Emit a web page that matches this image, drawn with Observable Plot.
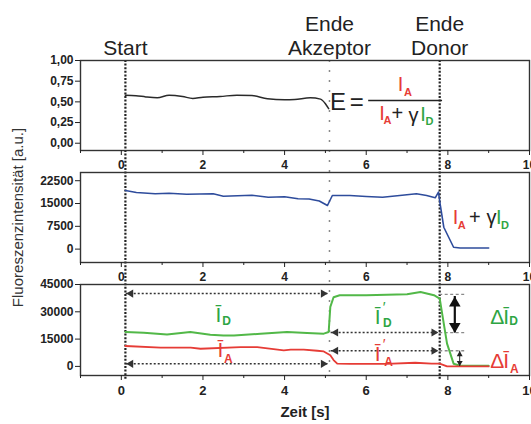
<!DOCTYPE html>
<html><head><meta charset="utf-8">
<script src="https://cdn.jsdelivr.net/npm/d3@7"></script>
<script src="https://cdn.jsdelivr.net/npm/@observablehq/plot@0.6"></script>
<style>
body{margin:0;background:#fff}
#chart{position:relative;width:531px;height:424px;overflow:hidden;background:#fff}
#chart svg{position:absolute;left:0;top:0}
</style></head><body><div id="chart"></div>
<script>
// ---- data ----
const majorTicks = [0, 2, 4, 6, 8, 10];
const minorTicks = [-1, 1, 3, 5, 7, 9];
const eventTimes = [0.1, 5.1, 7.8];
const eventLabels = ["Start", "Ende\nAkzeptor", "Ende\nDonor"];

const yTicksE = [0, 0.25, 0.5, 0.75, 1];
const yTicksSum = [0, 7500, 15000, 22500];
const yTicksI = [0, 15000, 30000, 45000];

// FRET efficiency E
const eTime = [0.1, 0.36, 0.6, 0.88, 1.17, 1.5, 1.75, 2.0, 2.42, 2.83, 3.2, 3.58, 4.0, 4.25, 4.63, 4.88, 5.0, 5.08];
const eValue = [0.58, 0.575, 0.56, 0.55, 0.58, 0.565, 0.541, 0.557, 0.565, 0.581, 0.577, 0.537, 0.525, 0.529, 0.549, 0.533, 0.477, 0.417];

// I_A + gamma I_D
const sumTime = [0.1, 0.37, 0.83, 1.17, 1.6, 2.25, 2.5, 3.2, 3.6, 4.0, 4.33, 4.6, 4.85, 5.05, 5.17, 5.6, 6.0, 6.4, 6.82, 7.23, 7.48, 7.69, 7.77, 7.81, 7.9, 8.14, 8.3, 9.0];
const sumValue = [19280, 18620, 18190, 18390, 18060, 18190, 17400, 17730, 17070, 17200, 16550, 16480, 15820, 14340, 17630, 17630, 17300, 17070, 17630, 18190, 17630, 16880, 18720, 14900, 7200, 620, 360, 360];

// donor intensity I_D
const donorTime = [0.1, 0.55, 1.12, 1.69, 2.18, 2.5, 2.76, 3.41, 4.06, 4.55, 4.96, 5.08, 5.12, 5.2, 5.35, 6.0, 6.5, 7.0, 7.33, 7.66, 7.8, 7.86, 7.98, 8.14, 8.3, 9.0];
const donorValue = [18900, 18500, 17580, 18900, 17400, 17000, 17000, 17950, 18900, 18300, 18000, 18900, 32700, 38000, 39100, 39100, 39300, 39600, 40900, 39100, 37300, 29000, 12500, 1500, 400, 300];

// acceptor intensity I_A
const accTime = [0.1, 0.96, 1.7, 1.94, 2.92, 3.33, 3.98, 4.15, 4.47, 4.8, 4.96, 5.12, 5.2, 5.29, 5.6, 6.5, 7.2, 7.6, 7.8, 7.98, 9.0];
const accValue = [11200, 10300, 10300, 9700, 10600, 10600, 8800, 9200, 9200, 8600, 8200, 6100, 3500, 1500, 1400, 1400, 2000, 1500, 1500, 0, 0];

// ---- helpers ----
const zip = (ts, vs) => ts.map((t, i) => ({t, v: vs[i]}));
const W = 531, H = 424, ML = 80, MR = 2;
const RED = "#e63c36", GREEN = "#2ea543", GREEN_LINE = "#52b848", BLUE = "#2e4c9c", DARK = "#2a2a2a";
const baseStyle = {background: "transparent", fontFamily: "'Liberation Sans', Arial, sans-serif", fontSize: "12px", fontWeight: "bold", color: "#222"};

function panel({top, bottom, yDomain, yTicks, yFormat, xFont, marks}) {
  return Plot.plot({
    width: W, height: H, marginLeft: ML, marginRight: MR, marginTop: top, marginBottom: H - bottom,
    x: {domain: [-1, 10]}, y: {domain: yDomain},
    style: baseStyle,
    marks: [
      Plot.frame({stroke: "#333", strokeWidth: 1.4}),
      Plot.axisY(yTicks, {tickSize: 5, tickPadding: 2, tickFormat: yFormat, label: null}),
      Plot.axisX(majorTicks, {tickSize: 5, tickPadding: 5, label: null, fontSize: xFont}),
      Plot.axisX(minorTicks, {tickSize: 3, tickFormat: () => "", label: null}),
      ...marks
    ]
  });
}
const lab = (s, t, v, c, fs, fw = "normal") =>
  Plot.text([{s, t, v}], {x: "t", y: "v", text: "s", fill: c, fontSize: fs, fontWeight: fw, textAnchor: "middle", lineAnchor: "middle"});
const tipOffset = r => 2 * Math.sqrt(Math.PI * r * r / (3 * Math.sqrt(3)));
function hArrow(y, t1, t2, stroke = "#333", width = 1.5, dash = "2,2", r = 3) {
  const o = tipOffset(r);
  return [
    Plot.ruleY([y], {y: d => d, x1: () => t1, x2: () => t2, stroke, strokeWidth: width, strokeDasharray: dash}),
    Plot.dot([y], {x: () => t1, y: d => d, symbol: "triangle", rotate: -90, r, fill: stroke, stroke: "none", dx: o}),
    Plot.dot([y], {x: () => t2, y: d => d, symbol: "triangle", rotate: 90, r, fill: stroke, stroke: "none", dx: -o})
  ];
}
function vArrow(t, yLow, yHigh, stroke = "#111", width = 2, r = 4) {
  const o = tipOffset(r);
  return [
    Plot.ruleX([t], {x: d => d, y1: () => yLow, y2: () => yHigh, stroke, strokeWidth: width}),
    Plot.dot([t], {x: d => d, y: () => yHigh, symbol: "triangle", rotate: 0, r, fill: stroke, stroke: "none", dy: o}),
    Plot.dot([t], {x: d => d, y: () => yLow, symbol: "triangle", rotate: 180, r, fill: stroke, stroke: "none", dy: -o})
  ];
}
const IBAR = "\u012A", PRIME = "\u2032", DELTA = "\u0394", GAMMA = "\u03B3";

// ---- overlay: event lines, headers, axis titles ----
const overlay = Plot.plot({
  width: W, height: H, marginLeft: ML, marginRight: MR, marginTop: 60, marginBottom: 44,
  x: {domain: [-1, 10], axis: null}, y: {domain: [0, 1], axis: null},
  style: baseStyle,
  marks: [
    Plot.ruleX([eventTimes[0], eventTimes[2]], {x: d => d, stroke: "#222", strokeWidth: 2.2, strokeDasharray: "2,1.6"}),
    Plot.ruleX([eventTimes[1]], {x: d => d, stroke: "#8a8a8a", strokeWidth: 1.5, strokeDasharray: "2,8"}),
    Plot.text(eventTimes, {x: d => d, text: (d, i) => eventLabels[i], frameAnchor: "top", lineAnchor: "bottom", textAnchor: "middle", dy: -6, fontSize: 21, fontWeight: "normal", lineHeight: 1.1, fill: "#222"}),
    Plot.text(["Fluoreszenzintensität [a.u.]"], {text: d => d, frameAnchor: "left", textAnchor: "middle", lineAnchor: "middle", dx: -62, dy: -3, rotate: -90, fontSize: 15, fontWeight: "normal", fill: "#333"}),
    Plot.text(["Zeit [s]"], {text: d => d, frameAnchor: "bottom", textAnchor: "middle", lineAnchor: "middle", dy: 32, fontSize: 15, fontWeight: "bold", fill: "#222"})
  ]
});

// ---- panel 1: E ----
const p1 = panel({
  top: 60, bottom: 150, yDomain: [-0.088, 1.0], yTicks: yTicksE,
  yFormat: d => d.toFixed(2).replace(".", ","), xFont: 12,
  marks: [
    Plot.line(zip(eTime, eValue), {x: "t", y: "v", stroke: DARK, strokeWidth: 1.5, curve: "monotone-x"}),
    lab("E", 5.31, 0.5, "#222", 24),
    lab("=", 5.77, 0.5, "#222", 24),
    Plot.ruleY([0.517], {y: d => d, x1: () => 6.06, x2: () => 7.87, stroke: "#222", strokeWidth: 1.5}),
    lab("I", 6.84, 0.705, RED, 20),
    lab("A", 7.02, 0.613, RED, 11, "bold"),
    lab("I", 6.39, 0.355, RED, 20),
    lab("A", 6.52, 0.28, RED, 11, "bold"),
    lab("+", 6.76, 0.36, "#222", 20),
    lab(GAMMA, 7.16, 0.33, "#222", 20),
    lab("I", 7.39, 0.345, GREEN, 20),
    lab("D", 7.55, 0.26, GREEN, 11, "bold")
  ]
});

// ---- panel 2: I_A + gamma I_D ----
const p2 = panel({
  top: 172, bottom: 262, yDomain: [-4400, 25200], yTicks: yTicksSum,
  yFormat: d3.format("d"), xFont: 12,
  marks: [
    Plot.line(zip(sumTime, sumValue), {x: "t", y: "v", stroke: BLUE, strokeWidth: 1.6}),
    lab("I", 8.19, 10230, RED, 20),
    lab("A", 8.34, 7660, RED, 11, "bold"),
    lab("+", 8.66, 10230, "#222", 20),
    lab(GAMMA, 9.07, 10230, "#222", 20),
    lab("I", 9.25, 10230, GREEN, 20),
    lab("D", 9.4, 7660, GREEN, 11, "bold")
  ]
});

// ---- panel 3: I_D and I_A ----
const p3 = panel({
  top: 284, bottom: 375, yDomain: [-5000, 45000], yTicks: yTicksI,
  yFormat: d3.format("d"), xFont: 13,
  marks: [
    Plot.ruleY([39600, 18600, 8600], {y: d => d, x1: () => 7.8, x2: () => 8.45, stroke: "#8a8a8a", strokeWidth: 1.3, strokeDasharray: "3,2.5"}),
    ...hArrow(40000, 0.12, 5.06),
    ...hArrow(1400, 0.12, 5.06),
    ...hArrow(18600, 5.14, 7.77),
    ...hArrow(8600, 5.14, 7.77),
    Plot.line(zip(donorTime, donorValue), {x: "t", y: "v", stroke: GREEN_LINE, strokeWidth: 2}),
    Plot.line(zip(accTime, accValue), {x: "t", y: "v", stroke: RED, strokeWidth: 1.8}),
    ...vArrow(8.17, 18400, 38400, "#111", 2.2, 4.3),
    ...vArrow(8.29, 100, 8400, "#222", 1, 2.2),
    lab(IBAR, 2.38, 27970, GREEN, 21),
    lab("D", 2.58, 24670, GREEN, 12, "bold"),
    lab(IBAR, 2.43, 8740, RED, 21),
    lab("A", 2.62, 3790, RED, 12, "bold"),
    lab(IBAR, 6.28, 26870, GREEN, 21),
    lab(PRIME, 6.44, 32600, GREEN, 15),
    lab("D", 6.52, 23900, GREEN, 12, "bold"),
    lab(IBAR, 6.28, 6540, RED, 21),
    lab(PRIME, 6.44, 12300, RED, 15),
    lab("A", 6.55, 2500, RED, 12, "bold"),
    lab(DELTA, 9.21, 27030, GREEN, 21),
    lab(IBAR, 9.43, 27030, GREEN, 21),
    lab("D", 9.61, 24600, GREEN, 12, "bold"),
    lab(DELTA, 9.21, 2700, RED, 21),
    lab(IBAR, 9.43, 2700, RED, 21),
    lab("A", 9.63, -1700, RED, 12, "bold")
  ]
});

const chart = document.getElementById("chart");
[overlay, p1, p2, p3].forEach(el => chart.appendChild(el));
</script></body></html>
